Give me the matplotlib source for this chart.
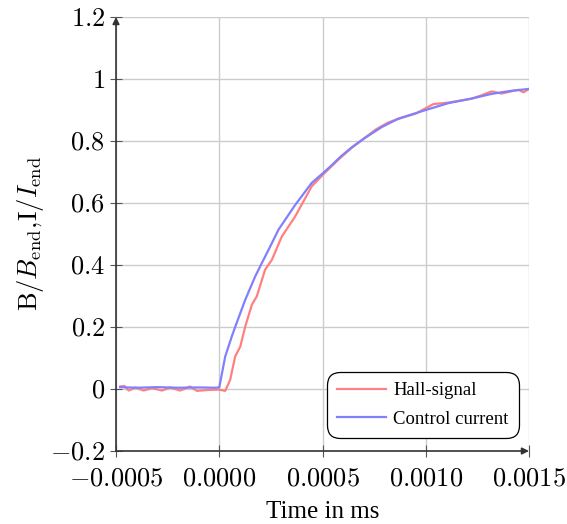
import matplotlib
matplotlib.use("Agg")
import matplotlib.pyplot as plt
from matplotlib.ticker import FuncFormatter

plt.rcParams['mathtext.fontset'] = 'cm'
plt.rcParams['font.family'] = ['Liberation Serif', 'DejaVu Serif']

# Hall-signal (red)
hall_t = [-0.00048, -0.00046, -0.000438, -0.000406, -0.000366, -0.000325, -0.000277,
          -0.000238, -0.00019, -0.000142, -0.000108, -0.000051, 0.0, 0.000029,
          0.000053, 0.000077, 0.000102, 0.000126, 0.000158, 0.000182, 0.000222,
          0.000255, 0.000303, 0.000368, 0.000448, 0.0005, 0.000577, 0.00064,
          0.0007, 0.00076, 0.000819, 0.00087, 0.00095, 0.001037, 0.00111,
          0.00122, 0.00126, 0.001319, 0.001367, 0.00142, 0.00145, 0.001473, 0.0015]
hall_b = [0.008, 0.01, -0.005, 0.005, -0.005, 0.003, -0.005,
          0.005, -0.005, 0.008, -0.006, -0.003, -0.002, -0.006,
          0.03, 0.105, 0.137, 0.202, 0.272, 0.299, 0.385,
          0.417, 0.492, 0.557, 0.654, 0.69, 0.74, 0.777,
          0.808, 0.838, 0.86, 0.872, 0.888, 0.919, 0.924,
          0.936, 0.945, 0.96, 0.953, 0.961, 0.965, 0.957, 0.968]

# Control current (blue)
ctrl_t = [-0.00048, -0.0004, -0.0003, -0.0002, -0.0001, -0.00002, 0.0, 0.000029,
          0.000061, 0.000077, 0.000126, 0.000174, 0.000206, 0.000247, 0.000287,
          0.000368, 0.000448, 0.0005, 0.000545, 0.000585, 0.000642, 0.000706,
          0.000787, 0.000867, 0.001, 0.001109, 0.001222, 0.001319, 0.001415, 0.0015]
ctrl_i = [0.006, 0.004, 0.006, 0.004, 0.005, 0.004, 0.005, 0.105,
          0.17, 0.2, 0.288, 0.363, 0.406, 0.46, 0.514,
          0.594, 0.665, 0.695, 0.722, 0.748, 0.78, 0.81,
          0.845, 0.872, 0.9, 0.922, 0.937, 0.952, 0.962, 0.968]

xticks = [-0.0005, 0.0, 0.0005, 0.001, 0.0015]
yticks = [-0.2, 0.0, 0.2, 0.4, 0.6, 0.8, 1.0, 1.2]

fig = plt.figure(figsize=(5.67, 5.24), dpi=100)
ax = fig.add_axes([116/567, 1 - 451/524, 413/567, 434/524])

ax.plot(hall_t, hall_b, color='#ff8080', lw=1.6, label='Hall-signal')
ax.plot(ctrl_t, ctrl_i, color='#8080ff', lw=1.6, label='Control current')

ax.set_xlim(-0.0005, 0.0015)
ax.set_ylim(-0.2, 1.2)
ax.set_xticks(xticks)
ax.set_yticks(yticks)
ax.xaxis.set_major_formatter(FuncFormatter(lambda v, p: f"${v:.4f}$"))
ax.yaxis.set_major_formatter(FuncFormatter(lambda v, p: f"${v:g}$"))
ax.tick_params(labelsize=19, direction='inout', length=8, width=0.8, color='#555555')
ax.tick_params(axis='x', pad=8.5)
ax.tick_params(axis='y', pad=4)
ax.grid(True, color='#cccccc', lw=1)

for s in ['top', 'right', 'left', 'bottom']:
    ax.spines[s].set_visible(False)
ax.annotate('', xy=(0, 1), xytext=(0, 0), xycoords='axes fraction',
            arrowprops=dict(arrowstyle='-|>', color='#333333', lw=1.2,
                            mutation_scale=10, shrinkA=0, shrinkB=0))
ax.annotate('', xy=(1, 0), xytext=(0, 0), xycoords='axes fraction',
            arrowprops=dict(arrowstyle='-|>', color='#333333', lw=1.2,
                            mutation_scale=10, shrinkA=0, shrinkB=0))

ax.set_xlabel('Time in ms', fontsize=18, labelpad=7.5)
ax.set_ylabel(r'$\mathrm{B}/B_{\mathrm{end}},\!\mathrm{I}/I_{\mathrm{end}}$', fontsize=19, labelpad=3)

leg = ax.legend(loc='lower right', bbox_to_anchor=(0.976, 0.03), borderaxespad=0,
                fontsize=13.5, frameon=True, fancybox=True, edgecolor='black',
                framealpha=1, handlelength=2.6, handletextpad=0.4,
                labelspacing=0.6, borderpad=0.55)
leg.get_frame().set_linewidth(0.9)
leg.get_frame().set_boxstyle('round,pad=0,rounding_size=0.7')

fig.savefig('out.png', dpi=100)
